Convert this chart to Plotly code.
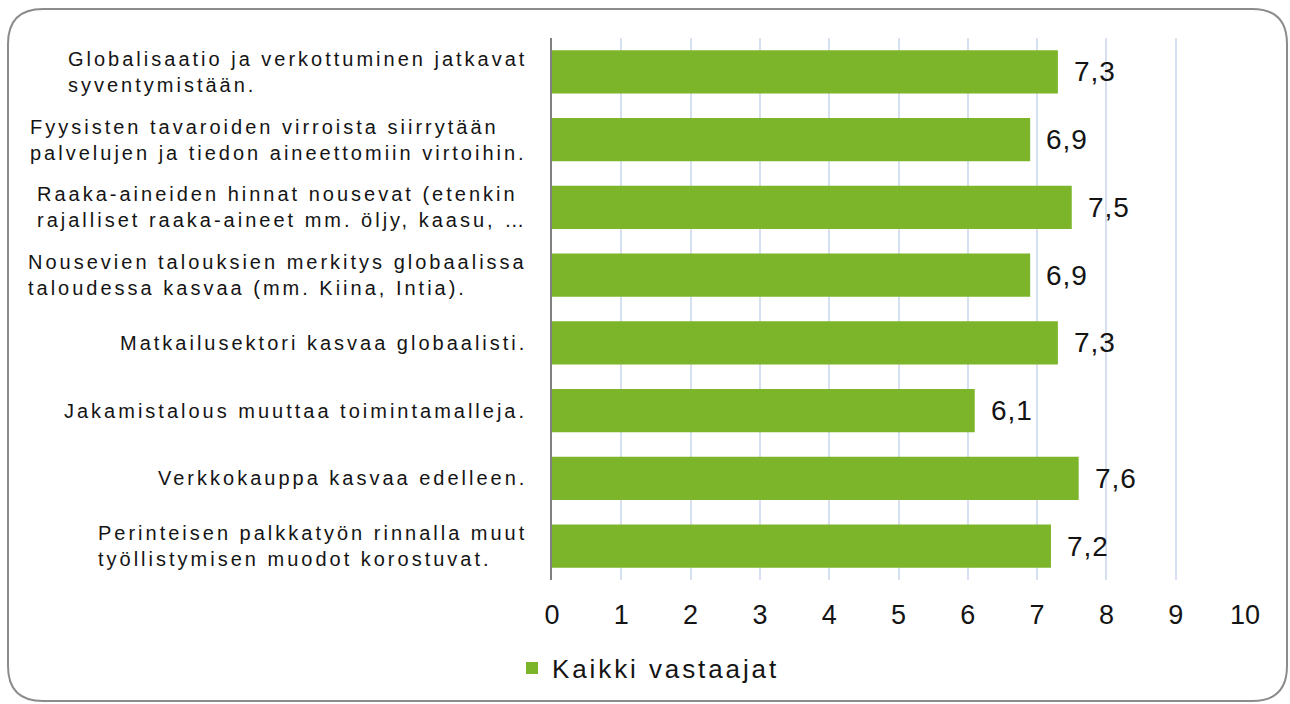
import plotly.graph_objects as go

categories = [
    "Globalisaatio ja verkottuminen jatkavat<br>syventymistään.",
    "Fyysisten tavaroiden virroista siirrytään<br>palvelujen ja tiedon aineettomiin virtoihin.",
    "Raaka-aineiden hinnat nousevat (etenkin<br>rajalliset raaka-aineet mm. öljy, kaasu, …",
    "Nousevien talouksien merkitys globaalissa<br>taloudessa kasvaa (mm. Kiina, Intia).",
    "Matkailusektori kasvaa globaalisti.",
    "Jakamistalous muuttaa toimintamalleja.",
    "Verkkokauppa kasvaa edelleen.",
    "Perinteisen palkkatyön rinnalla muut<br>työllistymisen muodot korostuvat.",
]
values = [7.3, 6.9, 7.5, 6.9, 7.3, 6.1, 7.6, 7.2]
series_name = "Kaikki vastaajat"
tick_values = list(range(0, 11))

W, H = 1290, 704
ML, MR, MT, MB = 552, 45, 38, 124
PW, PH = W - ML - MR, H - MT - MB

def px(x):
    return (x - ML) / PW

def py(y):
    return (H - MB - y) / PH

def spaced(text, ls):
    parts = text.split("<br>")
    return "<br>".join(f'<span style="letter-spacing:{ls}px">{p}</span>' for p in parts)

ids = list(range(len(categories)))
FONT = "Liberation Sans, Arial"
TXT = "#141414"

fig = go.Figure()
fig.add_trace(go.Bar(
    x=values, y=ids, orientation="h", width=0.64,
    marker=dict(color="#7cb52a", line=dict(width=0)),
    name=spaced(series_name, 2.9), showlegend=True,
))

annotations = []
for i, c in enumerate(categories):
    annotations.append(dict(
        x=px(529), xref="paper", y=i, yref="y", xanchor="right", yanchor="middle",
        align="left", showarrow=False, text=spaced(c, 3),
        font=dict(family=FONT, size=20, color=TXT),
    ))
for i, v in enumerate(values):
    annotations.append(dict(
        x=v, xref="x", y=i, yref="y", xanchor="left", yanchor="middle",
        xshift=14, showarrow=False, text=spaced(f"{v:.1f}".replace(".", ","), 1),
        font=dict(family=FONT, size=28, color=TXT),
    ))

L, R, T, B = px(8), px(1287), py(9), py(701)
rx, ry = 35 / PW, 35 / PH
path = (f"M {L+rx},{T} L {R-rx},{T} Q {R},{T} {R},{T-ry} L {R},{B+ry} Q {R},{B} {R-rx},{B} "
        f"L {L+rx},{B} Q {L},{B} {L},{B+ry} L {L},{T-ry} Q {L},{T} {L+rx},{T} Z")

fig.update_layout(
    width=W, height=H,
    margin=dict(l=ML, r=MR, t=MT, b=MB, pad=0),
    paper_bgcolor="white", plot_bgcolor="white",
    font=dict(family=FONT, color=TXT),
    xaxis=dict(
        range=[0, 10], tickvals=tick_values,
        ticktext=[str(t) for t in tick_values],
        showgrid=True, gridcolor="#d6e0f0", gridwidth=1.5,
        zeroline=False, showline=False, ticks="",
        tickfont=dict(size=27, color=TXT), ticklabelstandoff=16,
        fixedrange=True,
    ),
    yaxis=dict(
        range=[len(categories) - 0.5, -0.5], showticklabels=False,
        showgrid=False, zeroline=False, showline=True, linecolor="#808080", linewidth=2,
        ticks="", fixedrange=True,
    ),
    legend=dict(
        orientation="h", x=px(512), xanchor="left", y=py(668), yanchor="middle",
        font=dict(size=26, color=TXT), bgcolor="rgba(0,0,0,0)",
    ),
    annotations=annotations,
    shapes=[dict(type="path", xref="paper", yref="paper", path=path,
                 line=dict(color="#8c8c8c", width=2), fillcolor="rgba(0,0,0,0)", layer="below")],
    showlegend=True,
)

fig.write_html("out.html", config={"displayModeBar": False},
               post_script="document.body.style.margin='0';")
